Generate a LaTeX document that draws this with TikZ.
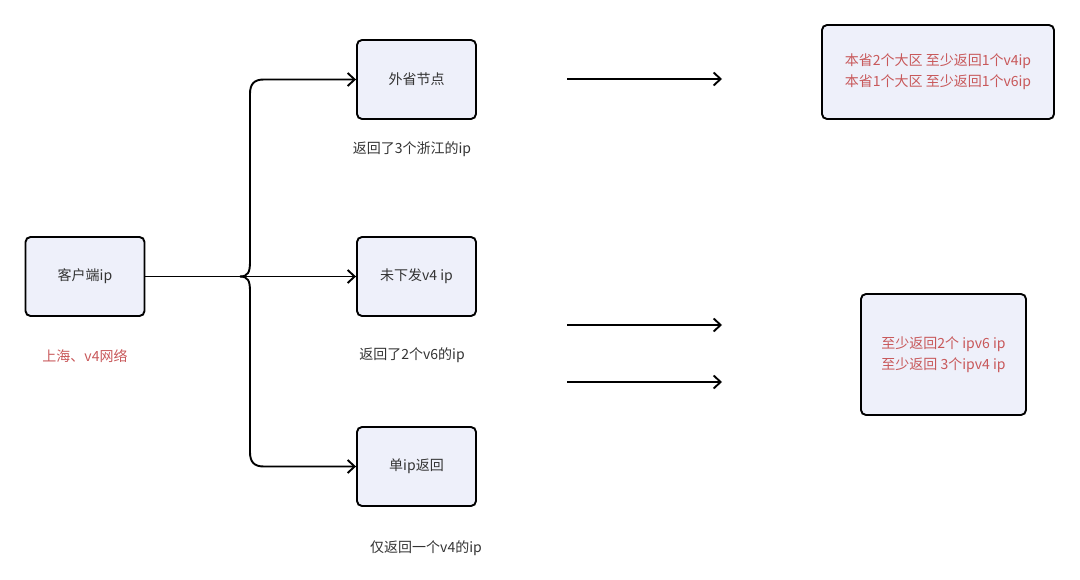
\documentclass[tikz,border=0pt]{standalone}
\usepackage{fontspec}
\setmainfont{Noto Sans CJK SC}
\usetikzlibrary{arrows.meta}
\definecolor{boxfill}{HTML}{EEF0FA}
\definecolor{redtxt}{HTML}{C8585A}
\definecolor{darktxt}{HTML}{333333}
\tikzset{
  box/.style={draw=black, line width=1.9pt, fill=boxfill, rounded corners=5pt, minimum width=119pt, minimum height=79pt, inner sep=0pt, text=darktxt, font=\fontsize{14}{16}\selectfont},
  lbl/.style={text=darktxt, font=\fontsize{14}{16}\selectfont, inner sep=0pt},
  redlbl/.style={text=redtxt, font=\fontsize{14}{21}\selectfont, inner sep=0pt, align=center},
  conn/.style={draw=black, line width=1.9pt, -{Straight Barb[length=7pt,width=13pt,line width=1.9pt]}},
  plain/.style={draw=black, line width=1.9pt}
}
\begin{document}
\begin{tikzpicture}[x=1pt,y=-1pt]
\useasboundingbox (0,0) rectangle (1080,580);
\node[box] (client) at (85,276.5) {客户端ip};
\node[box] (n1) at (416.5,79.5) {外省节点};
\node[box] (n2) at (416.5,276.5) {未下发v4 ip};
\node[box] (n3) at (416.5,466.5) {单ip返回};
\node[box, minimum width=232pt, minimum height=94pt, text=redtxt, font=\fontsize{14}{21}\selectfont, align=center] (r1) at (938,72) {本省2个大区 至少返回1个v4ip\\本省1个大区 至少返回1个v6ip};
\node[box, minimum width=165pt, minimum height=121pt, text=redtxt, font=\fontsize{14}{21}\selectfont, align=center] (r2) at (943.5,354.5) {至少返回2个 ipv6 ip\\至少返回 3个ipv4 ip};

\node[redlbl] (loc) at (85,356) {上海、v4网络};
\node[lbl] (t1) at (412,149) {返回了3个浙江的ip};
\node[lbl] (t2) at (412,355) {返回了2个v6的ip};
\node[lbl] (t3) at (426,548) {仅返回一个v4的ip};

\coordinate (cusp) at (240,276.5);
\draw[plain] (client.east) -- (cusp);
\draw[conn] (cusp) -- (n2.west);
\draw[conn] (cusp) .. controls (248,276.5) and (250,272) .. (250,262) -- (250,94) .. controls (250,84) and (254,79.5) .. (264,79.5) -- (n1.west);
\draw[conn] (cusp) .. controls (248,276.5) and (250,281) .. (250,291) -- (250,452) .. controls (250,462) and (254,466.5) .. (264,466.5) -- (n3.west);

\coordinate (a1s) at (567,79);
\coordinate (a1e) at (722,79);
\coordinate (a2s) at (567,325);
\coordinate (a2e) at (722,325);
\coordinate (a3s) at (567,382);
\coordinate (a3e) at (722,382);
\draw[conn] (a1s) -- (a1e);
\draw[conn] (a2s) -- (a2e);
\draw[conn] (a3s) -- (a3e);
\end{tikzpicture}
\end{document}
